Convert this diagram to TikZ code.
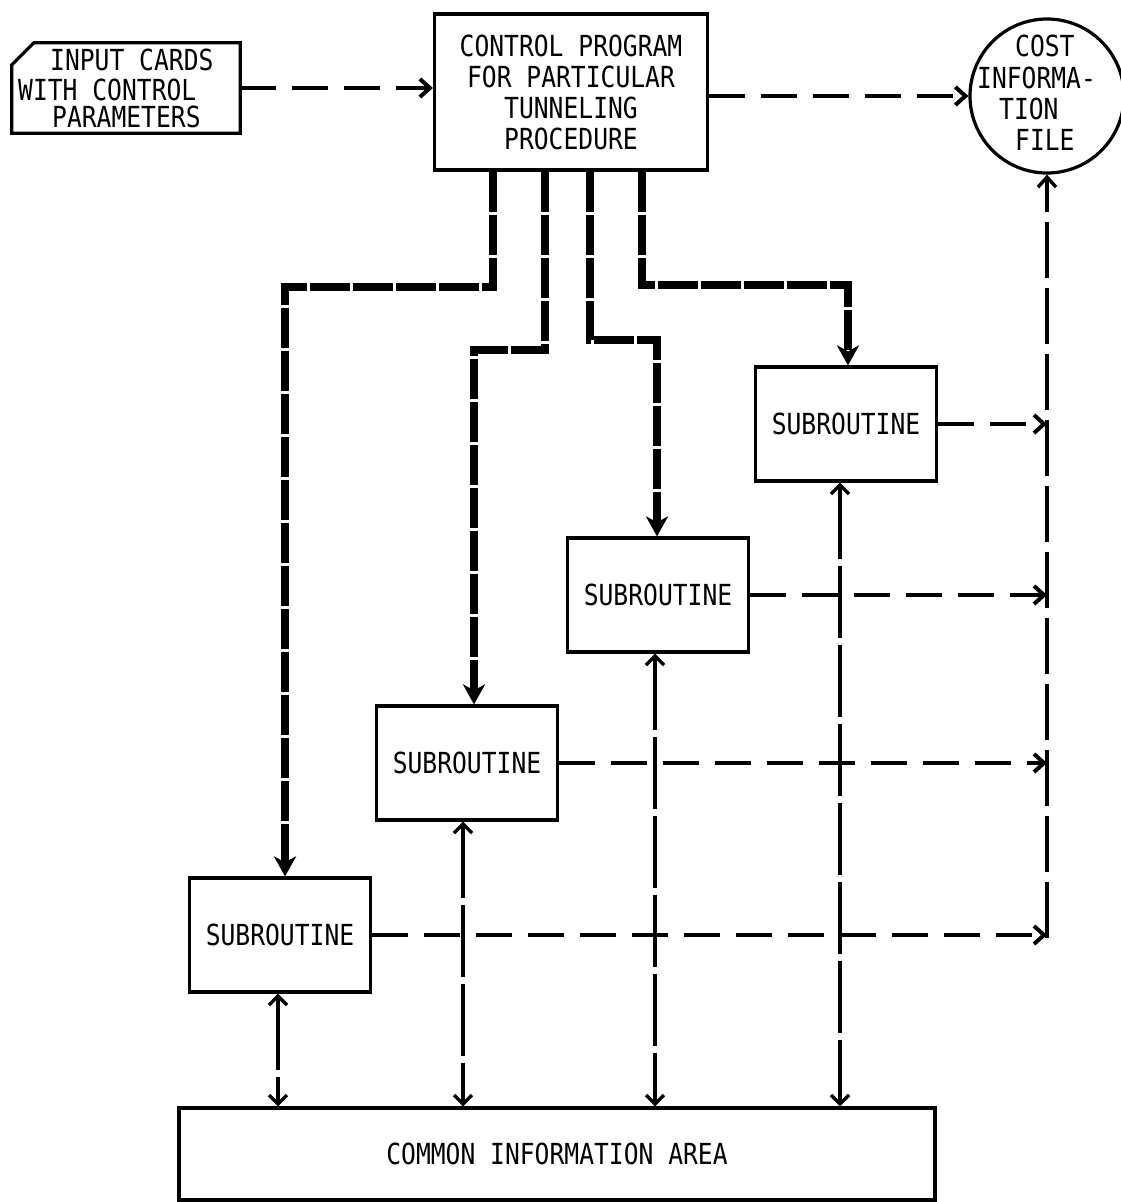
\documentclass[tikz,border=0pt]{standalone}
\usepackage{fontspec}
\newfontfamily\lpfont[FakeStretch=0.85]{DejaVu Sans Mono}
\usetikzlibrary{arrows.meta,calc}
\begin{document}
\begin{tikzpicture}[x=1pt,y=-1pt,
  txt/.style={font=\fontsize{29}{31}\selectfont\lpfont, inner sep=0pt},
  frame/.style={draw, line width=3.2pt},
  subbox/.style={frame, txt, minimum width=181pt, minimum height=114pt},
  flow/.style={line width=4pt, dash pattern=on 36pt off 16pt,
    -{Straight Barb[length=10pt,width=18pt,line width=4pt]}},
  ctrl/.style={line width=8pt, dash pattern=on 40pt off 3pt,
    -{Stealth[length=20pt,width=22pt,inset=6pt]}},
  share/.style={line width=3.4pt, dash pattern=on 72pt off 7pt,
    {Straight Barb[length=9pt,width=18pt,line width=3.4pt]}-{Straight Barb[length=9pt,width=18pt,line width=3.4pt]}},
  tofile/.style={line width=3.4pt, dash pattern=on 56pt off 10pt,
    -{Straight Barb[length=10pt,width=18pt,line width=3.4pt]}}
]
\useasboundingbox[fill=white] (0,0) rectangle (1120,1202);

% input cards
\node[txt, minimum width=228pt, minimum height=90pt] (input) at (126,88) {};
\draw[line width=3.2pt] ($(input.north west)+(0,22)$) -- ($(input.north west)+(22,0)$)
  -- (input.north east) -- (input.south east) -- (input.south west) -- cycle;
\node[txt, anchor=west] at (50,60) {INPUT CARDS};
\node[txt, anchor=west] at (18,90) {WITH CONTROL};
\node[txt, anchor=west] at (52,117) {PARAMETERS};

% control program
\node[subbox, minimum width=273pt, minimum height=156pt, align=center] (ctrlp) at (571,92)
  {CONTROL PROGRAM\\FOR PARTICULAR\\TUNNELING\\PROCEDURE};

% cost information file
\node[frame, circle, minimum size=154pt, inner sep=0pt] (cost) at (1047,96) {};
\node[txt, anchor=west] at (1015,46) {COST};
\node[txt, anchor=west] at (977,78) {INFORMA-};
\node[txt, anchor=west] at (999,109) {TION};
\node[txt, anchor=west] at (1015,140) {FILE};

% subroutines
\node[subbox] (s4) at (846,424) {SUBROUTINE};
\node[subbox] (s3) at (658,595) {SUBROUTINE};
\node[subbox] (s2) at (467,763) {SUBROUTINE};
\node[subbox] (s1) at (280,935) {SUBROUTINE};

% common area
\node[frame, txt, minimum width=756pt, minimum height=92pt] (common) at (557,1154)
  {COMMON INFORMATION AREA};

% top flows
\draw[flow] (input.east) -- (input.east -| ctrlp.west);
\draw[flow] (ctrlp.east |- cost.west) -- (cost.west);

% control lines
\draw[ctrl] (ctrlp.south -| 493,0) |- (285,287) -- (s1.north -| 285,0);
\draw[ctrl] (ctrlp.south -| 545,0) |- (474,350) -- (s2.north -| 474,0);
\draw[ctrl] (ctrlp.south -| 590,0) |- (657,340) -- (s3.north -| 657,0);
\draw[ctrl] (ctrlp.south -| 642,0) |- (848,285) -- (s4.north -| 848,0);

% links to common area
\draw[share] (s1.south -| 278,0) -- (common.north -| 278,0);
\draw[share] (s2.south -| 463,0) -- (common.north -| 463,0);
\draw[share] (s3.south -| 655,0) -- (common.north -| 655,0);
\draw[share] (s4.south -| 840,0) -- (common.north -| 840,0);

% links to cost file
\coordinate (rv) at (1047,938);
\draw[flow] (s4.east) -- (s4.east -| rv);
\draw[flow] (s3.east) -- (s3.east -| rv);
\draw[flow] (s2.east) -- (s2.east -| rv);
\draw[flow] (s1.east) -- (s1.east -| rv);
\draw[tofile] (rv) -- (cost.south);
\end{tikzpicture}
\end{document}
